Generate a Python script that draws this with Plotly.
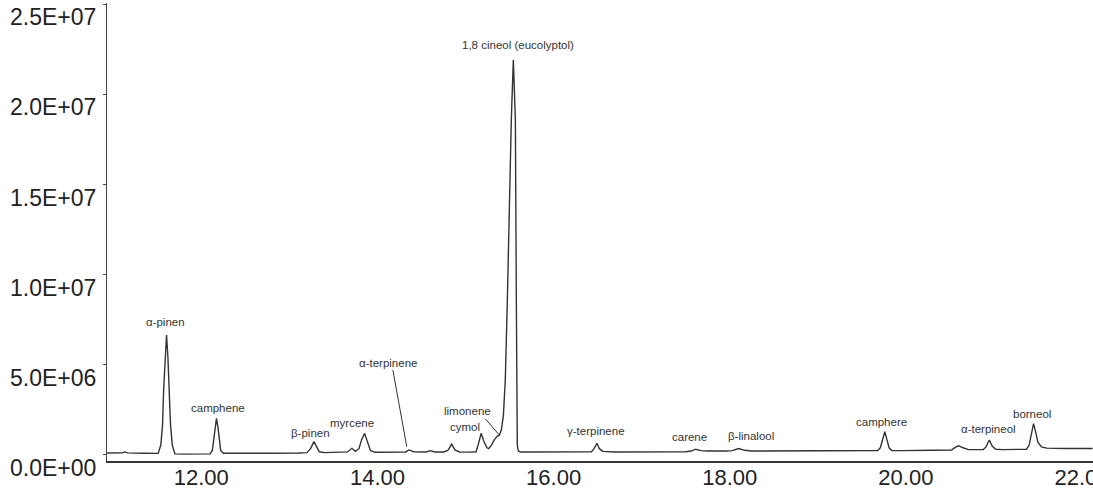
import plotly.graph_objects as go

# Retention time (min) and abundance (millions of counts)
rt = [
    10.93, 11.10, 11.13, 11.16, 11.35, 11.51,
    11.54, 11.56, 11.572, 11.59, 11.605, 11.62, 11.638, 11.65, 11.67, 11.70,
    11.80, 12.00, 12.10,
    12.125, 12.14, 12.155, 12.172, 12.19, 12.205, 12.22, 12.25,
    12.40, 12.80, 13.10, 13.20,
    13.24, 13.279, 13.31, 13.34, 13.40,
    13.55, 13.66, 13.71, 13.75,
    13.79, 13.82, 13.854, 13.88, 13.92, 13.97,
    14.20, 14.32, 14.36, 14.41,
    14.55, 14.60, 14.65,
    14.75, 14.80, 14.843, 14.88, 14.93,
    15.05, 15.12,
    15.146, 15.177, 15.209, 15.243, 15.263, 15.294, 15.328, 15.362, 15.384,
    15.407, 15.430, 15.452, 15.475, 15.498, 15.520, 15.543, 15.566, 15.577, 15.583, 15.588, 15.600, 15.622,
    15.70, 16.00, 16.30, 16.43,
    16.46, 16.492, 16.52, 16.56, 16.70,
    17.00, 17.50,
    17.56, 17.614, 17.67, 17.75,
    17.95,
    18.03, 18.10, 18.17, 18.25,
    18.40, 18.80, 19.30, 19.68,
    19.71, 19.735, 19.761, 19.785, 19.81, 19.84, 19.95,
    20.30, 20.52,
    20.56, 20.60, 20.65, 20.71, 20.80,
    20.88, 20.91, 20.948, 20.98, 21.02, 21.10,
    21.20, 21.37, 21.40, 21.425, 21.45, 21.475, 21.50, 21.54, 21.60, 21.80, 22.12,
]
abundance_m = [
    0.11, 0.12, 0.17, 0.12, 0.10, 0.09,
    0.55, 1.70, 3.60, 5.50, 6.65, 5.50, 3.60, 1.70, 0.55, 0.06,
    0.05, 0.04, 0.06,
    0.25, 0.75, 1.50, 2.03, 1.50, 0.75, 0.25, 0.10,
    0.09, 0.10, 0.11, 0.13,
    0.35, 0.74, 0.45, 0.18, 0.13,
    0.14, 0.17, 0.37, 0.20,
    0.35, 0.85, 1.20, 0.85, 0.25, 0.15,
    0.16, 0.17, 0.28, 0.18,
    0.17, 0.24, 0.17,
    0.17, 0.25, 0.60, 0.28, 0.17,
    0.16, 0.18,
    0.60, 1.20, 0.75, 0.40, 0.35, 0.55, 0.85, 1.05, 1.10,
    1.40, 2.20, 4.20, 8.60, 14.10, 18.60, 21.90, 18.60, 8.60, 1.90, 0.55, 0.22, 0.17,
    0.17, 0.16, 0.17, 0.18,
    0.35, 0.65, 0.35, 0.20, 0.17,
    0.16, 0.18,
    0.22, 0.32, 0.24, 0.22,
    0.22,
    0.24, 0.36, 0.26, 0.22,
    0.22, 0.21, 0.24, 0.25,
    0.40, 0.85, 1.29, 0.85, 0.40, 0.25, 0.24,
    0.26, 0.28,
    0.42, 0.51, 0.40, 0.30, 0.30,
    0.30, 0.45, 0.83, 0.50, 0.32, 0.30,
    0.30, 0.32, 0.55, 1.20, 1.74, 1.25, 0.70, 0.45, 0.38, 0.36, 0.36,
]

# Compound labels
label_names = ["α-pinen", "camphene", "β-pinen", "myrcene", "α-terpinene", "limonene", "cymol",
               "1,8 cineol (eucolyptol)", "γ-terpinene", "carene", "β-linalool", "camphere",
               "α-terpineol", "borneol"]
label_rt = [11.598, 12.187, 13.241, 13.706, 14.115, 15.022, 14.999,
            15.600, 16.484, 17.539, 18.242, 19.727, 20.940, 21.428]
label_abund_m = [7.37, 2.61, 1.22, 1.77, 5.10, 2.44, 1.55,
                 22.73, 1.33, 1.00, 1.05, 1.83, 1.44, 2.27]

# Leader lines (start rt, start abundance, end rt, end abundance), millions
leader_rt0 = [14.175, 15.226]
leader_ab0 = [4.71, 2.00]
leader_rt1 = [14.333, 15.384]
leader_ab1 = [0.46, 1.11]

# Axis ticks
x_ticks = [12, 14, 16, 18, 20, 22]
x_ticktext = ["12.00", "14.00", "16.00", "18.00", "20.00", "22.00"]
y_ticks = [0, 5e6, 1e7, 1.5e7, 2e7, 2.5e7]
y_ticktext = ["0.0E+00", "5.0E+06", "1.0E+07", "1.5E+07", "2.0E+07", "2.5E+07"]

fig = go.Figure()
fig.add_trace(go.Scatter(
    x=rt, y=[v * 1e6 for v in abundance_m], mode="lines",
    line=dict(color="#333333", width=1.4), hoverinfo="skip", showlegend=False,
))

annotations = []
for name, x, y in zip(label_names, label_rt, label_abund_m):
    annotations.append(dict(x=x, y=y * 1e6, xref="x", yref="y", text=name, showarrow=False,
                            font=dict(family="Liberation Sans, Arial, sans-serif", size=11.5, color="#333333"),
                            xanchor="center", yanchor="middle"))
fig.update_layout(annotations=annotations)

shapes = []
for x0, y0, x1, y1 in zip(leader_rt0, leader_ab0, leader_rt1, leader_ab1):
    shapes.append(dict(type="line", xref="x", yref="y", x0=x0, y0=y0 * 1e6, x1=x1, y1=y1 * 1e6,
                       line=dict(color="#333333", width=1)))
fig.update_layout(shapes=shapes)

fig.update_layout(
    width=1093, height=490, autosize=False,
    margin=dict(l=107, r=0, t=3, b=29, pad=0, autoexpand=False),
    paper_bgcolor="white", plot_bgcolor="white",
    font=dict(family="Liberation Sans, Arial, sans-serif", color="#222222"),
    showlegend=False,
)
fig.update_xaxes(
    range=[10.929, 22.125], tickvals=x_ticks, ticktext=x_ticktext, automargin=False,
    showgrid=False, zeroline=False, showline=True, linecolor="#333333", linewidth=2,
    ticks="", tickfont=dict(size=22, color="#222222"), ticklabeloverflow="allow",
    ticklabelstandoff=-4,
)
fig.update_yaxes(
    range=[-0.333e6, 25.06e6], tickvals=y_ticks, ticktext=y_ticktext, automargin=False,
    showgrid=False, zeroline=False, showline=True, linecolor="#444444", linewidth=1,
    ticks="outside", ticklen=3, tickcolor="#444444", ticklabelshift=13, ticklabelstandoff=2,
    tickfont=dict(size=23, color="#222222"), ticklabeloverflow="allow",
)

fig.write_html("out.html", config={"displayModeBar": False},
               post_script="document.body.style.margin='0';document.body.style.overflow='hidden';")
